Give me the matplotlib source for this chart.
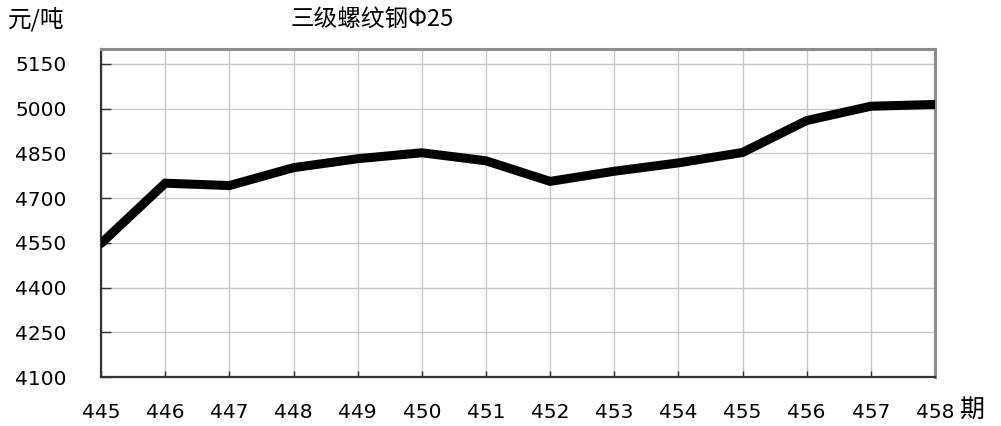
import numpy as np
import matplotlib
matplotlib.use('Agg')
import matplotlib.pyplot as plt

plt.rcParams['font.family'] = ['DejaVu Sans', 'Noto Sans CJK SC']

periods = [445, 446, 447, 448, 449, 450, 451, 452, 453, 454, 455, 456, 457, 458]
prices = [4548, 4750, 4742, 4802, 4832, 4852, 4825, 4756, 4790, 4818, 4853, 4960, 5008, 5014]
y_ticks = [4100, 4250, 4400, 4550, 4700, 4850, 5000, 5150]

title = '三级螺纹钢Φ25'
unit = '元/吨'
x_unit = '期'

cjk = ['Noto Sans CJK SC', 'DejaVu Sans']

fig = plt.figure(figsize=(10.01, 4.26), dpi=100)
ax = fig.add_axes([0.101, 0.115, 0.833, 0.770])

ax.plot(periods, prices, '-', color='k', lw=6.5, solid_joinstyle='miter', solid_capstyle='round', zorder=3)

ax.set_xlim(periods[0], periods[-1])
ax.set_ylim(4100, 5200)
ax.set_xticks(periods)
ax.set_yticks(y_ticks)
ax.grid(True, color='#c8c8c8', lw=1)
ax.set_axisbelow(True)

for s in ['top', 'right']:
    ax.spines[s].set_color('#8c8c8c')
    ax.spines[s].set_linewidth(2.2)
for s in ['left', 'bottom']:
    ax.spines[s].set_color('#333333')
    ax.spines[s].set_linewidth(1.6)

ax.tick_params(axis='x', direction='in', length=4.5, width=1, color='#333333', pad=19, labelsize=14.5)
ax.tick_params(axis='y', direction='in', length=7, width=1, color='#333333', pad=25, labelsize=14.5)

fig.text(0.008, 0.955, unit, fontsize=17, family=cjk, va='center', ha='left')
fig.text(0.290, 0.955, title, fontsize=17, family=cjk, va='center', ha='left')
fig.text(0.958, 0.037, x_unit, fontsize=18, family=cjk, va='center', ha='left')

fig.savefig('out.png', dpi=100)
